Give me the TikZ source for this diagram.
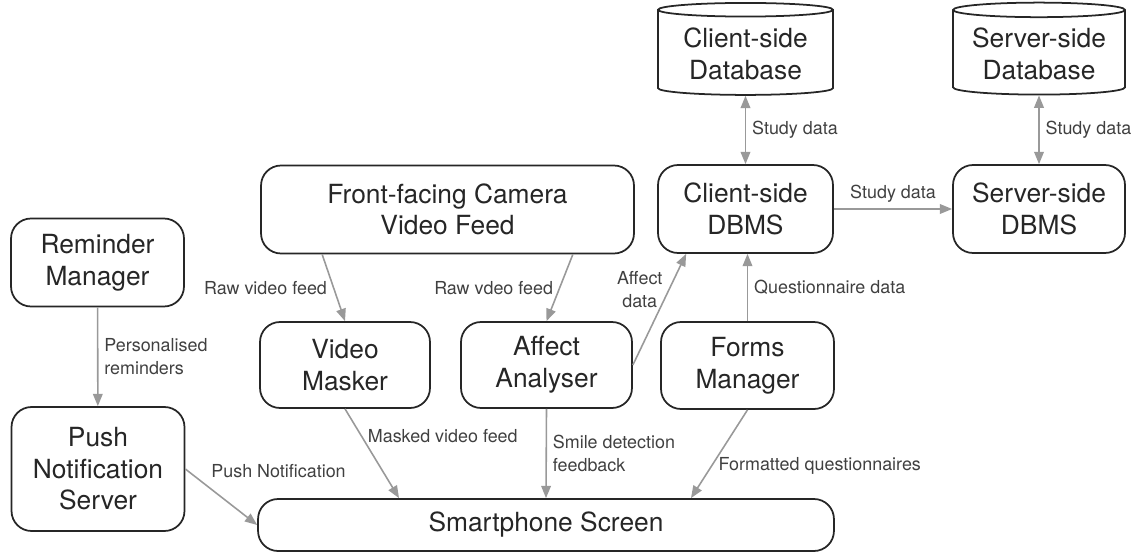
\documentclass[tikz,border=0pt]{standalone}
\usepackage{fontspec}
\setmainfont{TeX Gyre Heros}
\usetikzlibrary{shapes.geometric,arrows.meta,positioning}

\begin{document}
\begin{tikzpicture}[x=0.02cm, y=-0.02cm,
        box/.style = {
            draw=black!85,
            line width=1pt,
            rounded corners=0.4cm,
            align=center,
            text=black!85,
            minimum width=3.46cm,
            minimum height=1.76cm,
            font=\fontsize{15}{18}\selectfont
        },
        db/.style = {
            cylinder, shape border rotate=90, aspect=0.1,
            draw=black!85,
            line width=1pt,
            align=center,
            text=black!85,
            minimum width=3.5cm,
            minimum height=1.84cm,
            font=\fontsize{15}{18}\selectfont
        },
        flow/.style = {draw=black!40, line width=0.9pt, -{Triangle[length=7pt,width=5.5pt]}},
        dflow/.style = {draw=black!40, line width=0.9pt, {Triangle[length=7pt,width=5.5pt]}-{Triangle[length=7pt,width=5.5pt]}},
        lbl/.style = {text=black!75, align=left, font=\fontsize{10.2}{13.4}\selectfont}]

        \useasboundingbox (0,0) rectangle (1136,554);

        \node[box] (remind) at (97.5,262.5) {Reminder\\Manager};
        \node[box, minimum height=2.48cm] (push) at (98,469) {Push\\Notification\\Server};
        \node[box, minimum width=7.46cm] (camera) at (447.5,209.5) {Front-facing Camera\\Video Feed};
        \node[box, minimum width=3.4cm, minimum height=1.72cm] (masker) at (345,365) {Video\\Masker};
        \node[box, minimum width=3.42cm, minimum height=1.72cm] (affect) at (546.5,365) {Affect\\Analyser};
        \node[box, minimum height=1.74cm] (forms) at (747.5,365.5) {Forms\\Manager};
        \node[box, minimum width=3.5cm] (cdbms) at (745.5,209) {Client-side\\DBMS};
        \node[box, minimum width=3.44cm] (sdbms) at (1039,209) {Server-side\\DBMS};
        \node[db] (cdb) at (745.5,54) {Client-side\\Database};
        \node[db, minimum width=3.44cm] (sdb) at (1039,54) {Server-side\\Database};
        \node[box, minimum width=11.52cm, minimum height=1.04cm] (phone) at (546,525) {Smartphone Screen};

        \draw[dflow] (cdb) -- (cdbms) node[midway, right, lbl] {Study data};
        \draw[dflow] (sdb) -- (sdbms) node[midway, right, lbl] {Study data};
        \draw[flow] (cdbms) -- (sdbms) node[midway, above, lbl] {Study data};
        \draw[flow] ([xshift=1.24cm]camera.south west) -- (masker.north) node[midway, left, lbl] {Raw video feed};
        \draw[flow] ([xshift=-1.24cm]camera.south east) -- (affect.north) node[midway, left, lbl] {Raw vdeo feed};
        \draw[flow] (affect.east) -- ([xshift=0.58cm]cdbms.south west) node[pos=0.68, left, lbl, align=center] {Affect\\data};
        \draw[flow] (forms.north) -- (forms.north |- cdbms.south) node[midway, right, lbl] {Questionnaire data};
        \draw[flow] (remind) -- (push) node[midway, right, lbl] {Personalised\\reminders};
        \draw[flow] (push.east) -- (phone.west) node[pos=0.27, above right, lbl] {Push Notification};
        \draw[flow] (masker.south) -- ([xshift=-2.94cm]phone.north) node[pos=0.3, right, lbl] {Masked video feed};
        \draw[flow] (affect.south) -- (phone.north) node[midway, right, lbl] {Smile detection\\feedback};
        \draw[flow] (forms.south) -- ([xshift=2.9cm]phone.north) node[pos=0.63, right, lbl] {Formatted questionnaires};
\end{tikzpicture}
\end{document}
